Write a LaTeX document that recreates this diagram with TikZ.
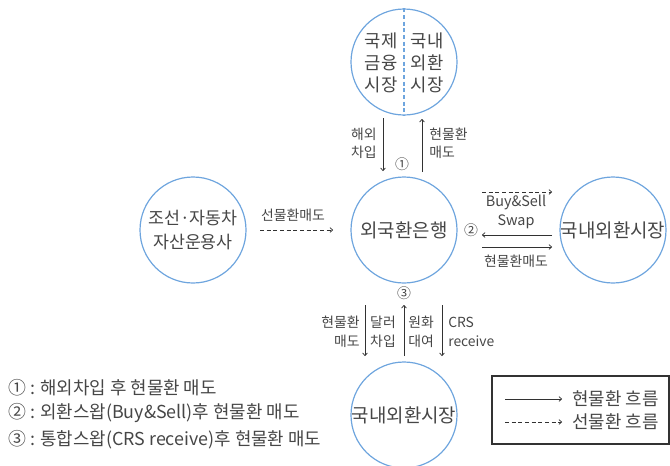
\documentclass[tikz,border=0pt]{standalone}
\usepackage{fontspec}
\setmainfont{Noto Sans CJK KR}
\usetikzlibrary{arrows.meta}
\definecolor{circ}{RGB}{110,165,222}
\definecolor{txt}{RGB}{70,70,70}
\definecolor{arr}{RGB}{50,50,50}
\begin{document}
\begin{tikzpicture}[x=0.75pt,y=-0.75pt,
  bubble/.style={circle,draw=circ,line width=0.9pt,minimum size=79.5pt,inner sep=0pt},
  big/.style={font=\fontsize{14.2}{16.5}\selectfont,text=txt,inner sep=0pt},
  mid/.style={font=\fontsize{13.3}{16.5}\selectfont,text=txt,inner sep=0pt},
  small/.style={font=\fontsize{10.4}{13.8}\selectfont,text=txt,inner sep=0pt},
  legend/.style={font=\fontsize{13.4}{14}\selectfont,text=txt,inner sep=0pt,anchor=west},
  flow/.style={draw=arr,line width=0.55pt,-{To[length=2.5pt,width=4pt]}},
  fwd/.style={flow,densely dashed}]
\useasboundingbox (0,0) rectangle (670,465);

% circles
\node[bubble] (top) at (404,62) {};
\node[bubble] (bank) at (404,230) {};
\node[bubble] (left) at (193,230) {};
\node[bubble] (right) at (613,230) {};
\node[bubble] (bottom) at (404,415) {};

% top circle content
\draw[circ,line width=0.8pt,densely dashed] (top.north) -- (top.south);
\node[mid,align=center] (topl) at (381,63) {국제\\금융\\시장};
\node[mid,align=center] (topr) at (427,63) {국내\\외환\\시장};

% circle texts
\node[big] (bankt) at (bank.center) {외국환은행};
\node[mid,align=center,font=\fontsize{13}{17.5}\selectfont] (leftt) at (left.center) {조선·자동차\\자산운용사};
\node[big] (rightt) at (right.center) {국내외환시장};
\node[big] (bottomt) at (bottom.center) {국내외환시장};

% top <-> bank
\coordinate (a1s) at (383,118); \coordinate (a1e) at (383,171);
\coordinate (a2s) at (422,172); \coordinate (a2e) at (422,119);
\draw[flow] (a1s) -- (a1e);
\draw[flow] (a2s) -- (a2e);
\node[small,anchor=east,align=right] (l1) at (377,143) {해외\\차입};
\node[small,anchor=west,align=left] (l2) at (429,143) {현물환\\매도};
\node[small] (c1) at (402,164) {①};

% left -> bank
\coordinate (b1s) at (260,230); \coordinate (b1e) at (333,230);
\draw[fwd] (b1s) -- (b1e);
\node[small] (l3) at (293,215) {선물환매도};

% bank <-> right
\node[small] (c2) at (471,230) {②};
\coordinate (r1s) at (482,192); \coordinate (r1e) at (552,192);
\draw[fwd] (r1s) -- (r1e);
\node[small,align=center,font=\fontsize{10.8}{14.3}\selectfont] (l4) at (516,212) {Buy\&Sell\\Swap};
\coordinate (r2s) at (552,235); \coordinate (r2e) at (482,235);
\draw[flow] (r2s) -- (r2e);
\coordinate (r3s) at (482,247); \coordinate (r3e) at (552,247);
\draw[flow] (r3s) -- (r3e);
\node[small] (l5) at (516,261) {현물환매도};

% bank <-> bottom
\node[small] (c3) at (404,293) {③};
\coordinate (d1s) at (365,305); \coordinate (d1e) at (365,356);
\coordinate (d2s) at (404,356); \coordinate (d2e) at (404,305);
\coordinate (d3s) at (442,305); \coordinate (d3e) at (442,356);
\draw[flow] (d1s) -- (d1e);
\draw[flow] (d2s) -- (d2e);
\draw[flow] (d3s) -- (d3e);
\node[small,anchor=east,align=right,font=\fontsize{10.4}{14.3}\selectfont] (l6) at (360,332) {현물환\\매도};
\node[small,align=center,font=\fontsize{10.4}{14.3}\selectfont] (l7) at (383,332) {달러\\차입};
\node[small,align=center,font=\fontsize{10.4}{14.3}\selectfont] (l8) at (421,332) {원화\\대여};
\node[small,anchor=west,align=left,font=\fontsize{10.4}{14.3}\selectfont] (l9) at (448,332) {CRS\\receive};

% notes
\node[legend] (n1) at (8,388) {① : 해외차입 후 현물환 매도};
\node[legend] (n2) at (8,413) {② : 외환스왑(Buy\&Sell)후 현물환 매도};
\node[legend] (n3) at (8,440) {③ : 통합스왑(CRS receive)후 현물환 매도};

% legend box
\draw[arr,line width=0.9pt] (492,376) rectangle (669,444);
\coordinate (k1s) at (505,399); \coordinate (k1e) at (562,399);
\coordinate (k2s) at (505,422); \coordinate (k2e) at (562,422);
\draw[flow] (k1s) -- (k1e);
\draw[fwd] (k2s) -- (k2e);
\node[legend] (k1t) at (572,399) {현물환 흐름};
\node[legend] (k2t) at (572,422) {선물환 흐름};
\end{tikzpicture}
\end{document}
